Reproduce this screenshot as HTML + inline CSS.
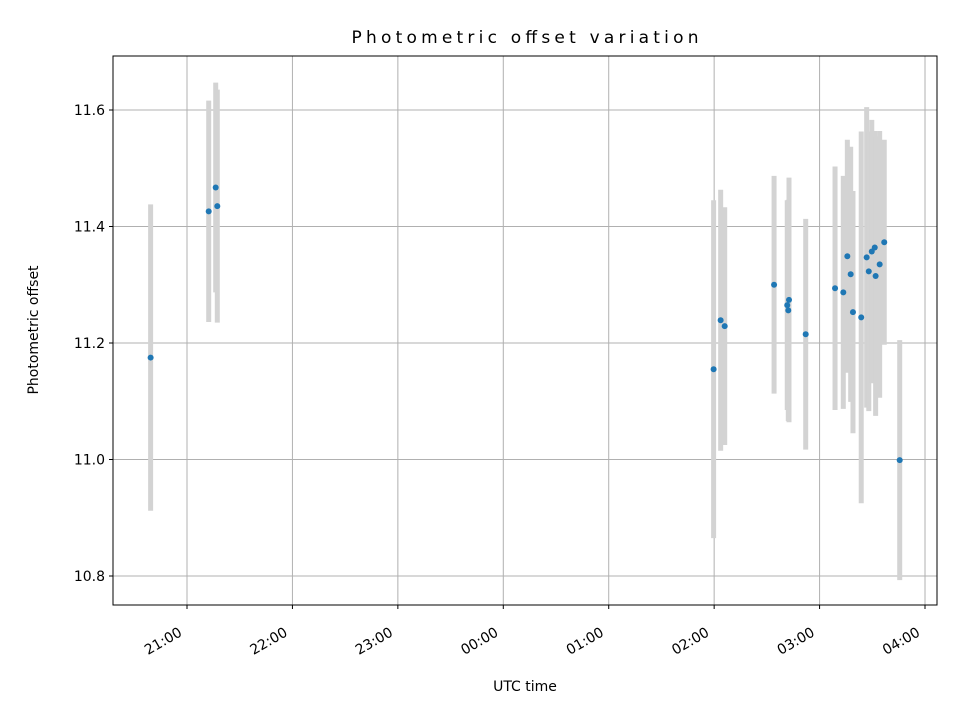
<!DOCTYPE html>
<html><head><meta charset="utf-8"><style>
body{margin:0;background:#fff}
svg{display:block;font-family:"DejaVu Sans","Liberation Sans",sans-serif}
</style></head><body>
<svg id="chart" width="960" height="720"></svg>
<script>
const times=[39.3,72.35,76.33,77.24,359.7,363.7,366.0,394.1,402.6,401.6,402.2,412.1,428.8,433.5,435.8,437.7,439.0,443.7,446.8,448.0,449.7,451.4,451.9,454.2,456.8,465.6];
const offsets=[11.175,11.426,11.467,11.435,11.155,11.239,11.229,11.30,11.274,11.265,11.256,11.215,11.294,11.287,11.349,11.318,11.253,11.244,11.347,11.323,11.357,11.364,11.315,11.335,11.373,10.999];
const errors=[0.263,0.19,0.18,0.2,0.29,0.224,0.204,0.187,0.21,0.18,0.19,0.198,0.209,0.2,0.2,0.219,0.208,0.319,0.258,0.24,0.226,0.2,0.24,0.229,0.176,0.206];
const yTicks=[10.8,11.0,11.2,11.4,11.6];
const xTicks=[60,120,180,240,300,360,420,480];
const xTickLabels=["21:00","22:00","23:00","00:00","01:00","02:00","03:00","04:00"];
const L=113,R=937,T=56,B=605;
const xs=t=>187+(t-60)*105.43/60;
const ys=v=>110+(11.6-v)*582.5;
const svg=document.getElementById('chart');
const NS='http://www.w3.org/2000/svg';
function mk(tag,a,parent){const e=document.createElementNS(NS,tag);for(const k in a)e.setAttribute(k,a[k]);(parent||svg).appendChild(e);return e;}
yTicks.forEach(v=>{const l=mk('line',{x1:L,x2:R,y1:ys(v),y2:ys(v),stroke:'#b0b0b0','stroke-width':1});

});
xTicks.forEach(t=>{const l=mk('line',{x1:xs(t),x2:xs(t),y1:T,y2:B,stroke:'#b0b0b0','stroke-width':1});

});
times.forEach((t,i)=>{const l=mk('line',{x1:xs(t),x2:xs(t),y1:ys(offsets[i]+errors[i]),y2:ys(offsets[i]-errors[i]),stroke:'#d3d3d3','stroke-width':5});

});
times.forEach((t,i)=>{const c=mk('circle',{cx:xs(t),cy:ys(offsets[i]),r:3,fill:'#1f77b4'});

});
const f=mk('rect',{x:L,y:T,width:R-L,height:B-T,fill:'none',stroke:'#000','stroke-width':1});


yTicks.forEach(v=>{const y=ys(v);
const tk=mk('line',{x1:L-4,x2:L,y1:y,y2:y,stroke:'#000'});


const tx=mk('text',{x:L-8,y:y+5,'text-anchor':'end','font-size':14});tx.textContent=v.toFixed(1);

});
xTicks.forEach((t,i)=>{const x=xs(t);
const tk=mk('line',{x1:x,x2:x,y1:B,y2:B+4,stroke:'#000'});


const ax=x-4,ay=B+30;
const tx=mk('text',{x:ax,y:ay,'text-anchor':'end','font-size':14,transform:`rotate(-30 ${ax} ${ay})`});tx.textContent=xTickLabels[i];

});
const ti=mk('text',{x:525,y:43,'text-anchor':'middle','font-size':17,textLength:347});ti.textContent='Photometric offset variation';


const xl=mk('text',{x:525,y:691,'text-anchor':'middle','font-size':14});xl.textContent='UTC time';


const yl=mk('text',{x:38,y:330,'text-anchor':'middle','font-size':14,transform:'rotate(-90 38 330)'});yl.textContent='Photometric offset';


</script>
</body></html>
